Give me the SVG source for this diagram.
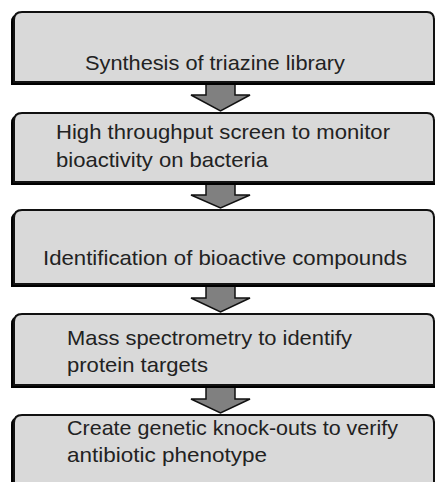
<svg xmlns="http://www.w3.org/2000/svg" width="437" height="482" viewBox="0 0 437 482">
<style>
.shadow{fill:#000}
.box{fill:#d9d9d9;stroke:#111;stroke-width:2}
.arrow{fill:#808080;stroke:#111;stroke-width:1.5;stroke-linejoin:miter}
text{font-family:"Liberation Sans",Arial,sans-serif;font-size:21px;fill:#222}
</style>
<rect width="437" height="482" fill="#fff"/>
<g id="connectors">
<path class="arrow" d="M206,83 H235 V95 H250 L220.5,111 L191,95 H206 Z"/>
<path class="arrow" d="M206,183 H235 V195 H250 L220.5,208 L191,195 H206 Z"/>
<path class="arrow" d="M206,285 H235 V298 H250 L220.5,312 L191,298 H206 Z"/>
<path class="arrow" d="M206,386 H235 V399 H250 L220.5,413 L191,399 H206 Z"/>
</g>
<g id="node1">
<path class="shadow" d="M11,85 V22 Q11,14 19,14 H427 Q435,14 435,22 V85 Z"/>
<path class="box" d="M14,82 V20 Q14,12 22,12 H427 Q434,12 434,20 V82 Z"/>
<text x="85" y="70" textLength="260" lengthAdjust="spacingAndGlyphs">Synthesis of triazine library</text>
</g>
<g id="node2">
<path class="shadow" d="M11,185 V123 Q11,115 19,115 H427 Q435,115 435,123 V185 Z"/>
<path class="box" d="M14,182 V121 Q14,113 22,113 H427 Q434,113 434,121 V182 Z"/>
<text x="56" y="139" textLength="334" lengthAdjust="spacingAndGlyphs">High throughput screen to monitor</text>
<text x="56" y="167" textLength="212" lengthAdjust="spacingAndGlyphs">bioactivity on bacteria</text>
</g>
<g id="node3">
<path class="shadow" d="M11,287 V220 Q11,212 19,212 H427 Q435,212 435,220 V287 Z"/>
<path class="box" d="M14,284 V218 Q14,210 22,210 H427 Q434,210 434,218 V284 Z"/>
<text x="43" y="265" textLength="364" lengthAdjust="spacingAndGlyphs">Identification of bioactive compounds</text>
</g>
<g id="node4">
<path class="shadow" d="M11,388 V324 Q11,316 19,316 H427 Q435,316 435,324 V388 Z"/>
<path class="box" d="M14,385 V322 Q14,314 22,314 H427 Q434,314 434,322 V385 Z"/>
<text x="67" y="345" textLength="285" lengthAdjust="spacingAndGlyphs">Mass spectrometry to identify</text>
<text x="67" y="372" textLength="141" lengthAdjust="spacingAndGlyphs">protein targets</text>
</g>
<g id="node5">
<path class="shadow" d="M11,500 V425 Q11,417 19,417 H427 Q435,417 435,425 V500 Z"/>
<path class="box" d="M14,500 V423 Q14,415 22,415 H427 Q434,415 434,423 V500 Z"/>
<text x="67" y="435" textLength="331" lengthAdjust="spacingAndGlyphs">Create genetic knock-outs to verify</text>
<text x="67" y="462" textLength="200" lengthAdjust="spacingAndGlyphs">antibiotic phenotype</text>
</g>
</svg>
